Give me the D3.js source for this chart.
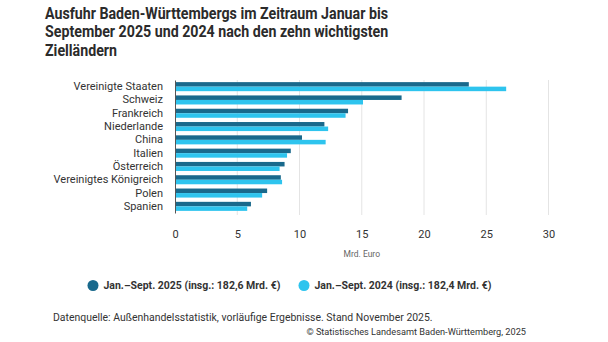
<!DOCTYPE html>
<html>
<head>
<meta charset="utf-8">
<script src="https://cdn.jsdelivr.net/npm/d3@7"></script>
<style>
  body { margin: 0; background: #fff; }
  svg { font-family: Roboto, "Noto Sans", sans-serif; }
</style>
</head>
<body>
<div id="chart"></div>
<script>
// Ausfuhr nach Zielländern, Mrd. Euro
const countries = ["Vereinigte Staaten", "Schweiz", "Frankreich", "Niederlande", "China",
  "Italien", "Österreich", "Vereinigtes Königreich", "Polen", "Spanien"];
const exports2025 = [23.6, 18.2, 13.9, 12.0, 10.2, 9.3, 8.8, 8.5, 7.4, 6.1];
const exports2024 = [26.6, 15.1, 13.7, 12.3, 12.1, 9.0, 8.4, 8.6, 7.0, 5.8];
const seriesNames = ["Jan.\u2013Sept. 2025 (insg.: 182,6 Mrd. \u20ac)", "Jan.\u2013Sept. 2024 (insg.: 182,4 Mrd. \u20ac)"];
const xTicks = [0, 5, 10, 15, 20, 25, 30];

const width = 608, height = 342;
const colors = ["#19698c", "#2ec4ee"];
const margin = {left: 175, right: 60, top: 80, bottom: 129};

const svg = d3.select("#chart").append("svg")
  .attr("width", width)
  .attr("height", height);

// Titel (etwas schmaler gesetzt)
const title = svg.append("text")
  .attr("transform", "translate(45,19) scale(0.9,1)")
  .attr("fill", "#2b2b2b")
  .style("font-size", "15.8px")
  .style("font-weight", "700");
["Ausfuhr Baden-Württembergs im Zeitraum Januar bis",
 "September 2025 und 2024 nach den zehn wichtigsten",
 "Zielländern"].forEach((t, i) => {
  title.append("tspan").attr("x", 0).attr("dy", i ? 18.5 : 0).text(t);
});

const x = d3.scaleLinear()
  .domain([0, 30])
  .range([margin.left, width - margin.right + 0.5]);

const y = d3.scaleBand()
  .domain(countries)
  .range([margin.top, height - margin.bottom])
  .paddingInner(0.32)
  .paddingOuter(0.16);

const ySub = d3.scaleBand()
  .domain([0, 1])
  .range([0, y.bandwidth()]);

// Gitterlinien
svg.append("g")
  .selectAll("line")
  .data(xTicks.slice(1))
  .join("line")
  .attr("x1", d => x(d))
  .attr("x2", d => x(d))
  .attr("y1", margin.top)
  .attr("y2", height - margin.bottom + 2)
  .attr("stroke", "#e4e4e4")
  .attr("stroke-width", 1);

// Balken
const groups = svg.append("g")
  .selectAll("g")
  .data(countries)
  .join("g")
  .attr("transform", d => "translate(0," + y(d) + ")");

groups.selectAll("rect")
  .data((d, i) => [exports2025[i], exports2024[i]])
  .join("rect")
  .attr("x", x(0))
  .attr("y", (d, j) => ySub(j))
  .attr("width", d => x(d) - x(0))
  .attr("height", ySub.bandwidth())
  .attr("fill", (d, j) => colors[j]);

// y-Achse
const yAxis = svg.append("g")
  .attr("transform", "translate(" + x(0) + ",0)")
  .call(d3.axisLeft(y).tickSize(0).tickPadding(12));
yAxis.select(".domain").attr("stroke", "#555").attr("stroke-width", 1);
yAxis.selectAll("text")
  .attr("fill", "#333")
  .style("font-size", "11px")
  .style("font-family", "Roboto, sans-serif");

// x-Achse
const xAxis = svg.append("g")
  .attr("transform", "translate(0," + (height - margin.bottom) + ")")
  .call(d3.axisBottom(x).tickValues(xTicks).tickSize(0).tickPadding(17));
xAxis.select(".domain").remove();
xAxis.selectAll("text")
  .attr("fill", "#333")
  .style("font-size", "11px")
  .style("font-family", "Roboto, sans-serif");

svg.append("text")
  .attr("x", x(15))
  .attr("y", 256.5)
  .attr("text-anchor", "middle")
  .attr("fill", "#666")
  .style("font-size", "8.5px")
  .text("Mrd. Euro");

// Legende
const legendX = [93, 304];
const legend = svg.append("g")
  .selectAll("g")
  .data(seriesNames)
  .join("g")
  .attr("transform", (d, i) => "translate(" + legendX[i] + ",285.5)");
legend.append("circle")
  .attr("r", 5.5)
  .attr("fill", (d, i) => colors[i]);
legend.append("text")
  .attr("x", 10.5)
  .attr("dy", "0.35em")
  .attr("fill", "#333")
  .style("font-size", "10.5px")
  .style("font-weight", "700")
  .text(d => d);

// Quelle
svg.append("text")
  .attr("transform", "translate(53,320.5) scale(0.95,1)")
  .attr("fill", "#333")
  .style("font-size", "11px")
  .text("Datenquelle: Außenhandelsstatistik, vorläufige Ergebnisse. Stand November 2025.");

svg.append("text")
  .attr("x", 526)
  .attr("y", 335)
  .attr("text-anchor", "end")
  .attr("fill", "#333")
  .style("font-size", "9.2px")
  .text("© Statistisches Landesamt Baden-Württemberg, 2025");
</script>
</body>
</html>
